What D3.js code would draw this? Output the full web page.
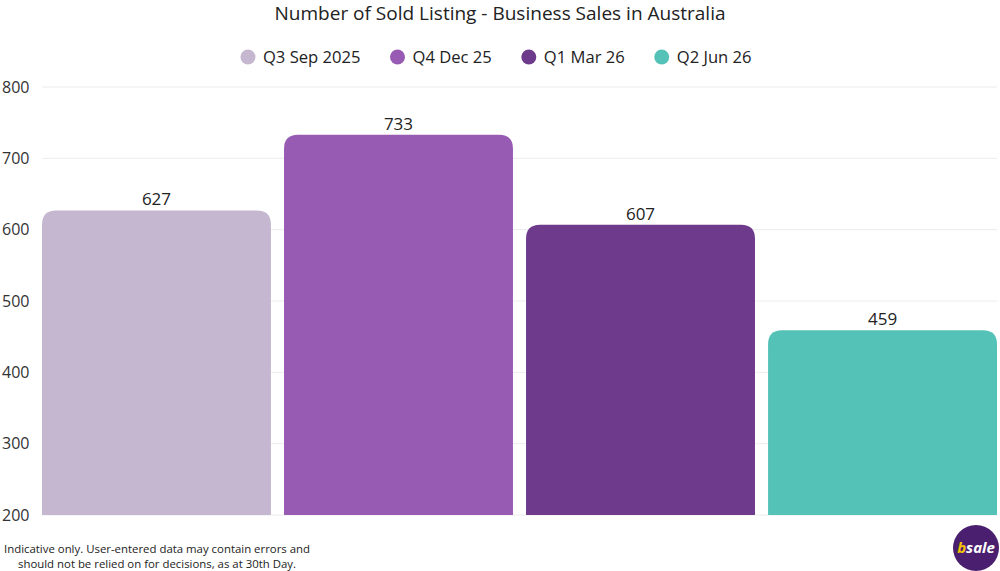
<!DOCTYPE html>
<html>
<head>
<meta charset="utf-8">
<script src="https://cdn.jsdelivr.net/npm/d3@7"></script>
<style>
  body { margin: 0; background: #fff; }
  text { font-family: "Open Sans", sans-serif; }
</style>
</head>
<body>
<script>
var WIDTH = 1000;
var HEIGHT = 571;

var categories = ["Q3 Sep 2025", "Q4 Dec 25", "Q1 Mar 26", "Q2 Jun 26"];
var values = [627, 733, 607, 459];
var colors = ["#c5b7cf", "#975bb4", "#6e3a8c", "#55c2b8"];
var yTicks = [200, 300, 400, 500, 600, 700, 800];
var footnote = ["Indicative only. User-entered data may contain errors and",
  "should not be relied on for decisions, as at 30th Day."];

var svg = d3.select("body")
  .append("svg")
  .attr("width", WIDTH)
  .attr("height", HEIGHT);

var x = d3.scaleBand()
  .domain(categories)
  .range([42, 997])
  .paddingInner(0.054)
  .paddingOuter(0);

var y = d3.scaleLinear()
  .domain([200, 800])
  .range([515, 87]);

// title
svg.append("text")
  .attr("x", WIDTH / 2)
  .attr("y", 20)
  .attr("text-anchor", "middle")
  .attr("font-size", 18)
  .attr("fill", "#222")
  .attr("textLength", 451)
  .attr("lengthAdjust", "spacingAndGlyphs")
  .text("Number of Sold Listing - Business Sales in Australia");

// gridlines
svg.append("g")
  .selectAll("line")
  .data(yTicks)
  .enter()
  .append("line")
  .attr("x1", 42)
  .attr("x2", 997)
  .attr("y1", function (d) { return y(d); })
  .attr("y2", function (d) { return y(d); })
  .attr("stroke", "#ececec")
  .attr("stroke-width", 1);

// y labels
svg.append("g")
  .selectAll("text")
  .data(yTicks)
  .enter()
  .append("text")
  .attr("x", 2)
  .attr("y", function (d) { return y(d); })
  .attr("dy", "0.35em")
  .attr("font-size", 16)
  .attr("fill", "#333")
  .text(function (d) { return d; });

// rounded-top bar path
function barPath(x0, y0, w, h, r) {
  return "M" + x0 + "," + (y0 + h) +
    "V" + (y0 + r) +
    "Q" + x0 + "," + y0 + " " + (x0 + r) + "," + y0 +
    "H" + (x0 + w - r) +
    "Q" + (x0 + w) + "," + y0 + " " + (x0 + w) + "," + (y0 + r) +
    "V" + (y0 + h) + "Z";
}

svg.append("g")
  .selectAll("path")
  .data(values)
  .enter()
  .append("path")
  .attr("d", function (d, i) {
    var top = y(d);
    return barPath(x(categories[i]), top, x.bandwidth(), y(200) - top, 14);
  })
  .attr("fill", function (d, i) { return colors[i]; });

svg.append("g")
  .selectAll("text")
  .data(values)
  .enter()
  .append("text")
  .attr("x", function (d, i) { return x(categories[i]) + x.bandwidth() / 2; })
  .attr("y", function (d) { return y(d) - 5; })
  .attr("text-anchor", "middle")
  .attr("font-size", 17)
  .attr("fill", "#222")
  .text(function (d) { return d; });

// legend
var legend = svg.append("g");
var items = legend.selectAll("g")
  .data(categories)
  .enter()
  .append("g");

items.append("circle")
  .attr("r", 7.5)
  .attr("cx", 0)
  .attr("cy", 57)
  .attr("fill", function (d, i) { return colors[i]; });

items.append("text")
  .attr("x", 15)
  .attr("y", 57)
  .attr("dy", "0.35em")
  .attr("font-size", 16.6)
  .attr("fill", "#222")
  .text(function (d) { return d; });

var offsets = [];
var pos = 0;
items.each(function (d, i) {
  var w = d3.select(this).select("text").node().getComputedTextLength();
  offsets.push(pos);
  pos += 15 + w + 37;
});
var totalW = pos - 37 + 7.5;
var startX = 496 - totalW / 2 + 7.5;
items.attr("transform", function (d, i) {
  return "translate(" + (startX + offsets[i]) + ",0)";
});

// footnote
svg.append("g")
  .selectAll("text")
  .data(footnote)
  .enter()
  .append("text")
  .attr("x", 157)
  .attr("y", function (d, i) { return 553 + i * 15; })
  .attr("text-anchor", "middle")
  .attr("font-size", 11.4)
  .attr("fill", "#222")
  .text(function (d) { return d; });

// logo
var logo = svg.append("g").attr("transform", "translate(976,548)");
logo.append("circle")
  .attr("r", 23)
  .attr("fill", "#4b1f6f");
var lt = logo.append("text")
  .attr("x", 0)
  .attr("y", 5)
  .attr("text-anchor", "middle")
  .attr("font-size", 15)
  .attr("font-weight", "bold")
  .attr("font-style", "italic");
lt.append("tspan").attr("fill", "#f5c400").text("b");
lt.append("tspan").attr("fill", "#fff").text("sale");
</script>
</body>
</html>
